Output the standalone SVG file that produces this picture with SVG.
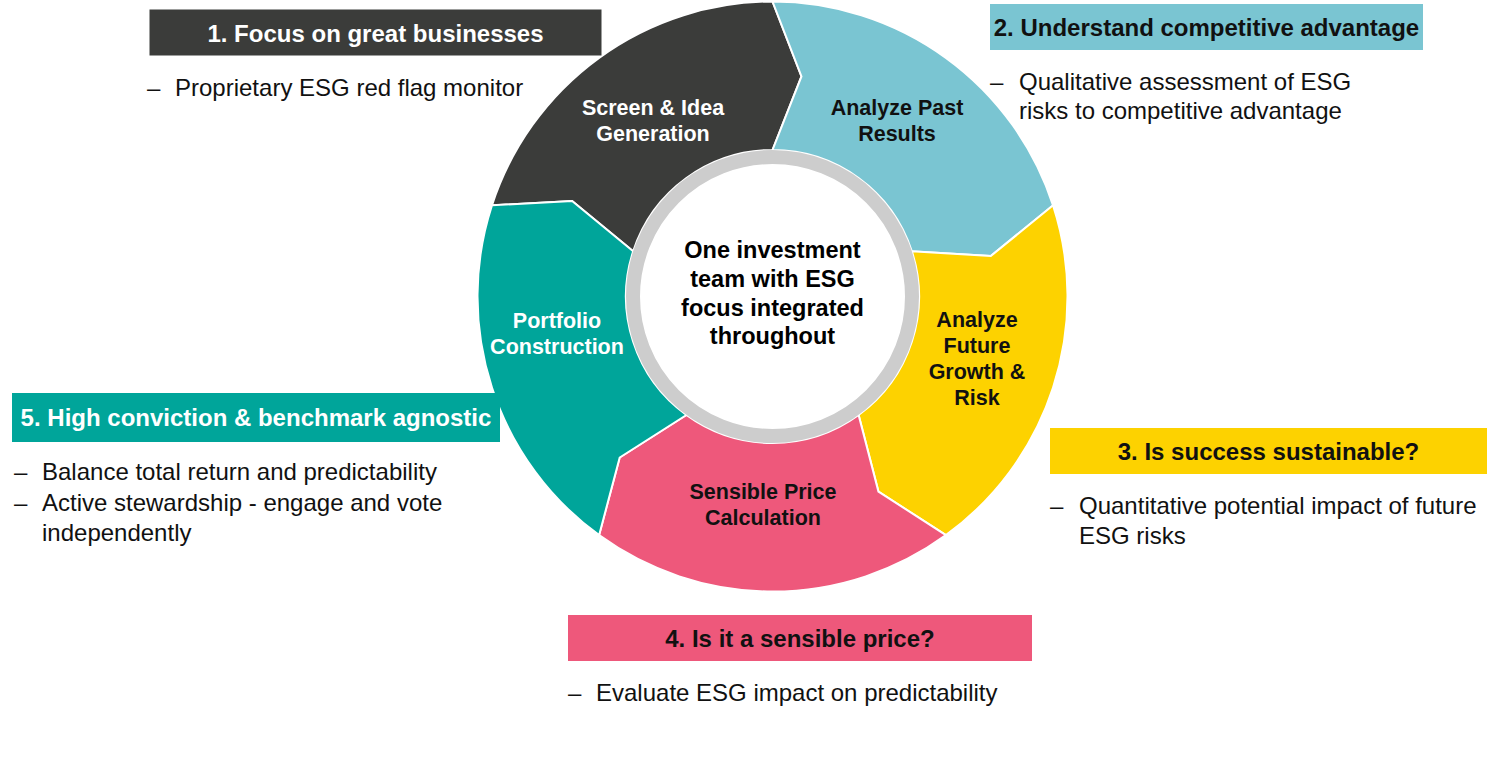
<svg xmlns="http://www.w3.org/2000/svg" width="1500" height="767" viewBox="0 0 1500 767">
<style>
text{font-family:"Liberation Sans",Arial,Helvetica,sans-serif}
.seg{stroke:#ffffff;stroke-width:2;stroke-linejoin:miter}
.lbl{font-size:21.5px;font-weight:bold;text-anchor:middle}
.ctr{font-size:23.5px;font-weight:bold;text-anchor:middle;fill:#000}
.ttl{font-size:24px;font-weight:bold;text-anchor:middle}
.bul{font-size:24px;fill:#111}
.w{fill:#ffffff}
.k{fill:#111111}
</style>
<rect width="1500" height="767" fill="#ffffff"/>
<g id="segments">
<g id="seg-screen">
<path class="seg" fill="#3b3c3a" d="M491.94,205.34 A295,295 0 0 1 772.5,1.5 L801.48,76.4 L772.5,150 A146.5,146.5 0 0 0 633.17,251.23 L572.13,200.93 Z"/>
<text class="lbl w" x="653" y="115">Screen &amp; Idea</text>
<text class="lbl w" x="653" y="141">Generation</text>
</g>
<g id="seg-past">
<path class="seg" fill="#7ac5d2" d="M772.5,1.5 A295,295 0 0 1 1053.06,205.34 L990.78,256.04 L911.83,251.23 A146.5,146.5 0 0 0 772.5,150 L801.48,76.4 Z"/>
<text class="lbl k" x="897" y="115">Analyze Past</text>
<text class="lbl k" x="897" y="141">Results</text>
</g>
<g id="seg-future">
<path class="seg" fill="#fdd200" d="M1053.06,205.34 A295,295 0 0 1 945.9,535.16 L878.43,491.6 L858.61,415.02 A146.5,146.5 0 0 0 911.83,251.23 L990.78,256.04 Z"/>
<text class="lbl k" x="977" y="327">Analyze</text>
<text class="lbl k" x="977" y="353">Future</text>
<text class="lbl k" x="977" y="379">Growth &amp;</text>
<text class="lbl k" x="977" y="405">Risk</text>
</g>
<g id="seg-price">
<path class="seg" fill="#ee587b" d="M945.9,535.16 A295,295 0 0 1 599.1,535.16 L619.69,457.53 L686.39,415.02 A146.5,146.5 0 0 0 858.61,415.02 L878.43,491.6 Z"/>
<text class="lbl k" x="763" y="499">Sensible Price</text>
<text class="lbl k" x="763" y="525">Calculation</text>
</g>
<g id="seg-portfolio">
<path class="seg" fill="#00a59a" d="M599.1,535.16 A295,295 0 0 1 491.94,205.34 L572.13,200.93 L633.17,251.23 A146.5,146.5 0 0 0 686.39,415.02 L619.69,457.53 Z"/>
<text class="lbl w" x="557" y="328">Portfolio</text>
<text class="lbl w" x="557" y="354">Construction</text>
</g>
</g>
<g id="center">
<circle cx="772.5" cy="296.5" r="139.5" fill="#ffffff" stroke="#cdcdcd" stroke-width="14"/>
<text class="ctr" x="772.5" y="257.5">One investment</text>
<text class="ctr" x="772.5" y="286.5">team with ESG</text>
<text class="ctr" x="772.5" y="315.5">focus integrated</text>
<text class="ctr" x="772.5" y="344">throughout</text>
</g>
<g id="step1">
<rect x="149.5" y="9.5" width="452" height="46" fill="#3b3c3a"/>
<text class="ttl w" x="375.5" y="42">1. Focus on great businesses</text>
<text class="bul" x="147" y="96">–</text>
<text class="bul" x="175" y="96">Proprietary ESG red flag monitor</text>
</g>
<g id="step2">
<rect x="990" y="4" width="433" height="46" fill="#7ac5d2"/>
<text class="ttl k" x="1206.5" y="36">2. Understand competitive advantage</text>
<text class="bul" x="990" y="90">–</text>
<text class="bul" x="1019" y="90">Qualitative assessment of ESG</text>
<text class="bul" x="1019" y="119">risks to competitive advantage</text>
</g>
<g id="step3">
<rect x="1050" y="428" width="437" height="46" fill="#fdd200"/>
<text class="ttl k" x="1268.5" y="460">3. Is success sustainable?</text>
<text class="bul" x="1050" y="514">–</text>
<text class="bul" x="1079" y="514">Quantitative potential impact of future</text>
<text class="bul" x="1079" y="544">ESG risks</text>
</g>
<g id="step4">
<rect x="568" y="615" width="464" height="46" fill="#ee587b"/>
<text class="ttl k" x="800" y="647">4. Is it a sensible price?</text>
<text class="bul" x="568" y="701">–</text>
<text class="bul" x="596" y="701">Evaluate ESG impact on predictability</text>
</g>
<g id="step5">
<rect x="12" y="393" width="488" height="49" fill="#00a59a"/>
<text class="ttl w" x="256" y="426">5. High conviction &amp; benchmark agnostic</text>
<text class="bul" x="14" y="480">–</text>
<text class="bul" x="42" y="480">Balance total return and predictability</text>
<text class="bul" x="14" y="511">–</text>
<text class="bul" x="42" y="511">Active stewardship - engage and vote</text>
<text class="bul" x="42" y="541">independently</text>
</g>
<g id="connectors"></g>
</svg>
